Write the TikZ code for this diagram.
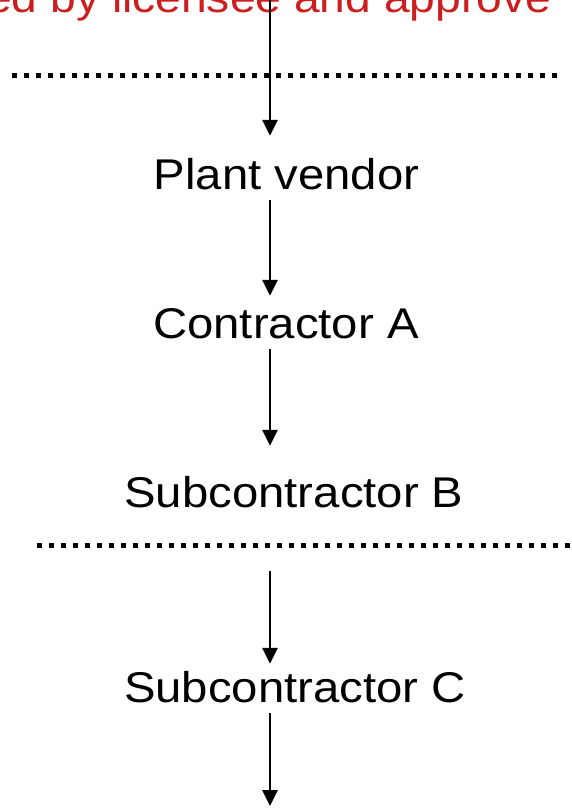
\documentclass[tikz,border=0pt]{standalone}
\usepackage{fontspec}
\setmainfont{Liberation Sans}
\usetikzlibrary{arrows.meta}
\definecolor{notered}{RGB}{204,30,30}
\newcommand{\wide}[1]{\scalebox{1.1}[1]{#1}}
\tikzstyle{party} = [inner xsep=0pt, inner ysep=11pt, text height=32pt, text depth=0pt, font=\fontsize{43}{50}\selectfont, anchor=base]
\tikzstyle{note} = [inner sep=0pt, anchor=base west, text=notered, font=\fontsize{42}{48}\selectfont]
\tikzstyle{arrow} = [line width=2.7pt, -{Triangle[width=15pt,length=16pt]}]
\tikzstyle{border} = [line width=5pt, dash pattern=on 5pt off 7pt]
\begin{document}
\begin{tikzpicture}[x=1pt, y=-1pt]
        \useasboundingbox (0,0) rectangle (572,808);
        \clip (0,0) rectangle (572,808);

        \node (remark) [note] at (-14,13) {\wide{ed by licensee and approve}};

        \coordinate (top) at (270,0);
        \coordinate (bottom) at (270,806);
        \coordinate (lineAl) at (12,75);
        \coordinate (lineAr) at (558,75);
        \coordinate (lineBl) at (37,545);
        \coordinate (lineBr) at (575,545);

        \node (vendor) [party] at (286.5,189) {\wide{Plant vendor}};
        \node (contractA) [party] at (286,338) {\wide{Contractor A}};
        \node (subB) [party] at (294,507) {\wide{Subcontractor B}};
        \node (subC) [party] at (295,702) {\wide{Subcontractor C}};

        \draw [border] (lineAl) -- (lineAr);
        \draw [border] (lineBl) -- (lineBr);

        \draw [arrow] (top) -- ([yshift=10pt]vendor.north -| top);
        \draw [arrow] (vendor.south -| top) -- ([yshift=-1pt]contractA.north -| top);
        \draw [arrow] (contractA.south -| top) -- ([yshift=18pt]subB.north -| top);
        \draw [arrow] ([yshift=-53pt]subB.south -| top) -- ([yshift=-5pt]subC.north -| top);
        \draw [arrow] (subC.south -| top) -- (bottom);
\end{tikzpicture}
\end{document}
